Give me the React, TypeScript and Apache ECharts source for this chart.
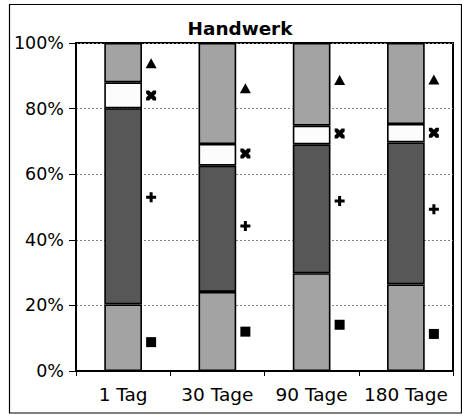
import React, { useEffect, useRef } from "react";
import * as echarts from "echarts";

const title = "Handwerk";
const categories = ["1 Tag", "30 Tage", "90 Tage", "180 Tage"];
const yTicks = [0, 20, 40, 60, 80, 100];

// stacked bar segments (percent)
const segBottom = [20.3, 24.1, 29.8, 26.4];
const segDark = [59.8, 38.5, 39.3, 43.3];
const segWhite = [7.9, 6.6, 5.7, 5.6];
const segTop = [12.0, 30.8, 25.2, 24.7];

// marker series (percent)
const markSquare = [8.8, 12.0, 14.1, 11.3];
const markPlus = [53.0, 44.2, 51.8, 49.3];
const markCross = [84.0, 66.3, 72.4, 72.6];
const markTriangle = [93.8, 86.2, 88.7, 88.9];

const PLUS =
  "path://M3.5,0H6.5V3.5H10V6.5H6.5V10H3.5V6.5H0V3.5H3.5Z";
const CROSS =
  "path://M0,0L3,0L5,2L7,0L10,0L10,3L8,5L10,7L10,10L7,10L5,8L3,10L0,10L0,7L2,5L0,3Z";

export default function App() {
  const ref = useRef<HTMLDivElement>(null);

  useEffect(() => {
    if (!ref.current) return;
    const chart = echarts.init(ref.current, undefined, { renderer: "svg" });
    const font = "DejaVu Sans";
    const barStyle = (color: string) => ({
      color,
      borderColor: "#000",
      borderWidth: 1.6,
    });
    const bar = (name: string, data: number[], color: string) => ({
      name,
      type: "bar",
      stack: "s",
      barWidth: "40%",
      data,
      itemStyle: barStyle(color),
      z: 2,
    });
    const marker = (name: string, data: number[], symbol: string, size: any) => ({
      name,
      type: "scatter",
      data,
      symbol,
      symbolSize: size,
      symbolOffset: [28, 0],
      itemStyle: { color: "#000", opacity: 1 },
      z: 5,
    });
    chart.setOption({
      animation: false,
      title: {
        text: title,
        left: 235,
        textAlign: "center",
        top: 14,
        textStyle: {
          fontFamily: font,
          fontWeight: "bold",
          fontSize: 18.4,
          color: "#000",
        },
      },
      graphic: [
        {
          type: "rect",
          shape: { x: 9.5, y: 4.5, width: 452, height: 408.5 },
          style: { fill: "none", stroke: "#000", lineWidth: 1.2 },
          z: 0,
          silent: true,
        },
      ],
      grid: {
        left: 76,
        right: 9,
        top: 43,
        bottom: 44,
        show: true,
        borderColor: "#000",
        borderWidth: 2,
        backgroundColor: "transparent",
      },
      xAxis: {
        type: "category",
        data: categories,
        boundaryGap: true,
        axisLine: { show: true, lineStyle: { color: "#000", width: 2 } },
        axisTick: { show: true, length: 5, interval: 0, lineStyle: { color: "#000", width: 1 } },
        axisLabel: {
          fontFamily: font,
          fontSize: 18.5,
          color: "#000",
          margin: 14,
          interval: 0,
          hideOverlap: false,
        },
        splitLine: { show: false },
      },
      yAxis: {
        type: "value",
        min: 0,
        max: 100,
        interval: 20,
        axisLine: { show: true, lineStyle: { color: "#000", width: 2 } },
        axisTick: { show: true, length: 7, lineStyle: { color: "#000", width: 1 } },
        axisLabel: {
          fontFamily: font,
          fontSize: 17.5,
          color: "#000",
          margin: 12,
          formatter: (v: number) => (yTicks.includes(v) ? v + "%" : ""),
        },
        splitLine: {
          show: true,
          lineStyle: { color: "#808080", width: 1, type: [2, 2] },
        },
      },
      series: [
        bar("bottom", segBottom, "#a3a3a3"),
        bar("dark", segDark, "#575757"),
        bar("white", segWhite, "#fcfcfc"),
        bar("top", segTop, "#a3a3a3"),
        marker("square", markSquare, "rect", 10),
        marker("plus", markPlus, PLUS, 10),
        marker("cross", markCross, CROSS, 10),
        marker("triangle", markTriangle, "triangle", [11, 10]),
      ],
    });
    return () => chart.dispose();
  }, []);

  return (
    <div
      ref={ref}
      style={{
        position: "fixed",
        left: 0,
        top: 0,
        width: 462,
        height: 415,
        background: "#fff",
      }}
    />
  );
}
